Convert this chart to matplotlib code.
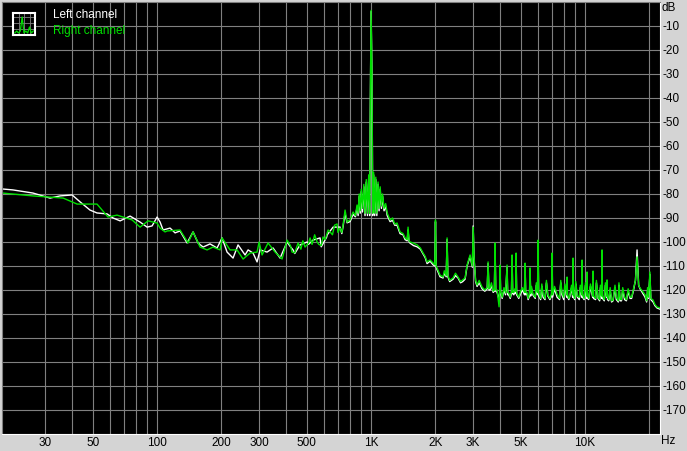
import numpy as np
import matplotlib.pyplot as plt

# Right channel (green), low part: Hz / dB
right_low_hz = [18.9, 26.3, 36.4, 42.3, 52.4, 59.0, 65.0, 76.4, 83.3, 90.8,
                100, 103.3, 109, 111.4, 128, 139.6, 147.3, 158.8, 171.3, 182.6,
                197, 201.2, 219.3, 236.5, 252.3, 272.1, 293.3, 299.7, 309.5, 330.2,
                356, 383.8, 405.1, 427.4, 456, 470, 480, 491.6, 518.8, 530,
                545, 559.4, 570, 596.6, 610, 630, 643.3, 660, 675, 693.7,
                700, 716.5]
right_low_db = [-79.6, -80.8, -81.7, -84.2, -84.2, -89.6, -88.8, -90.8, -93.8, -91.2,
                -92.1, -94.2, -95.8, -95.4, -95.0, -100.4, -95.8, -102.1, -103.3, -102.1,
                -103.3, -98.3, -103.3, -103.3, -107.1, -104.6, -104.2, -100.0, -105.4, -100.4,
                -104.2, -107.1, -99.2, -104.2, -100.4, -103.0, -99.5, -102.1, -98.3, -101.0,
                -97.0, -100.0, -101.0, -97.9, -99.0, -95.0, -95.8, -97.0, -93.0, -92.5,
                -96.0, -94.2]

# Left channel (white), low part
left_low_hz = [18.9, 21.2, 26.3, 31.6, 35.2, 40.1, 43.7, 48.6, 52.4, 58.4,
               62.3, 67.2, 74.8, 83.3, 89.8, 94.8, 100, 103.3, 106.7, 115,
               121.4, 128, 138.1, 147.3, 155.4, 164.1, 176.8, 190.7, 201.2, 212.4,
               226.5, 239, 257.8, 266.3, 280.9, 293.3, 302.9, 326.6, 348.4, 375.7,
               405.1, 432, 465.9, 502.3, 535.8, 577.7, 622.9, 664.5, 716.5]
left_low_db = [-77.9, -78.3, -79.6, -81.7, -80.8, -80.4, -83.3, -86.7, -87.9, -88.3,
               -90.0, -91.2, -89.2, -91.7, -93.8, -93.3, -89.6, -91.7, -95.0, -94.2,
               -96.2, -95.4, -100.4, -95.8, -100.4, -102.1, -100.8, -102.5, -98.3, -104.2,
               -106.7, -101.2, -105.4, -103.3, -104.6, -108.3, -103.3, -104.2, -102.5, -106.7,
               -100.0, -103.3, -101.2, -100.0, -99.2, -98.3, -97.1, -93.8, -93.8]

# around the 1 kHz test tone
peak_hz = [740, 756, 772.6, 797.9, 824.1, 845, 860, 870, 880, 890,
           900, 912, 925, 937, 950, 962, 975, 985, 990, 1000,
           1010, 1018, 1028, 1040, 1052, 1064, 1078, 1090, 1103, 1118,
           1132, 1150, 1170, 1190, 1227, 1260, 1290, 1323, 1366]
right_peak_db = [-92.9, -86.7, -91.7, -90.8, -87.5, -89.0, -84.6, -88.0, -80.0, -87.0,
                 -78.0, -86.0, -76.0, -88.0, -74.0, -88.0, -72.0, -88.0, -54.0, -3.5,
                 -29.0, -88.0, -71.0, -88.0, -73.0, -88.0, -75.0, -86.0, -77.0, -85.0,
                 -80.0, -86.0, -84.0, -88.0, -90.8, -90.0, -92.5, -92.1, -95.8]
left_peak_db = [-93.5, -88.0, -92.0, -91.5, -88.5, -89.5, -85.5, -89.0, -81.0, -88.0,
                -79.0, -87.5, -77.0, -89.0, -75.0, -89.0, -73.0, -89.0, -55.0, -4.0,
                -30.0, -89.0, -72.0, -89.0, -74.0, -89.0, -76.0, -87.0, -78.0, -86.0,
                -81.0, -87.0, -85.0, -89.0, -91.5, -91.0, -93.0, -93.0, -96.5]

# high part with harmonics / spurs
high_hz = [1411, 1442, 1475, 1489, 1505, 1522, 1580, 1641, 1700, 1750,
           1790, 1827, 1887, 1949, 1985, 2000, 2015, 2034, 2101, 2170,
           2245, 2266, 2285, 2417, 2550, 2680, 2750, 2810, 2902, 2975,
           3000, 3029, 3080, 3129, 3302, 3490, 3522, 3555, 3598, 3770,
           3797, 3825, 3880, 3965, 3990, 4008, 4030, 4250, 4321, 4350,
           4400, 4530, 4560, 4590, 4650, 4740, 4761, 4790, 5000, 5210,
           5244, 5280, 5350, 5500, 5534, 5570, 5700, 5995, 6031, 6070,
           6364, 6700, 6975, 7013, 7050, 7398, 7800, 8200, 8240, 8280,
           8500, 8750, 8789, 8830, 9200, 9640, 9683, 9730, 10170, 10216,
           10260, 10850, 10899, 10950, 11500, 11950, 12005, 12060, 12610, 12668,
           12730, 13513, 14000, 14576, 15300, 16234, 16800, 17200, 17500, 17800,
           18072, 19074, 19800, 20100, 20300, 20793, 21200, 21700, 22415]
right_high_db = [-96.5, -98.3, -99.0, -93.8, -99.5, -100.0, -100.5, -101.2, -102.5, -104.6,
                 -106.0, -108.3, -107.5, -108.8, -109.5, -90.8, -110.0, -110.8, -113.8, -114.6,
                 -114.0, -98.3, -113.8, -115.0, -114.6, -115.8, -115.0, -109.6, -105.4, -110.0,
                 -93.8, -106.2, -116.0, -117.9, -118.8, -119.0, -108.3, -119.5, -119.2, -120.0,
                 -100.4, -120.0, -120.0, -127.0, -120.0, -109.6, -120.5, -121.2, -109.6, -121.0,
                 -121.2, -120.8, -105.4, -121.0, -121.0, -120.5, -104.6, -121.2, -120.5, -121.0,
                 -108.8, -121.0, -121.0, -121.5, -110.8, -121.5, -121.5, -121.0, -99.2, -121.5,
                 -121.7, -122.0, -121.5, -104.6, -122.0, -121.7, -121.0, -122.0, -114.6, -122.0,
                 -122.0, -122.0, -106.7, -122.0, -122.5, -122.0, -107.5, -122.0, -122.5, -112.5,
                 -122.5, -122.5, -112.1, -122.5, -123.0, -122.5, -103.3, -122.5, -122.5, -115.8,
                 -123.0, -124.2, -123.0, -123.8, -123.0, -122.9, -120.0, -116.0, -106.2, -118.0,
                 -119.2, -122.0, -123.0, -112.5, -123.5, -124.2, -126.0, -127.1, -127.5]
left_high_db = [-97.0, -99.0, -99.5, -95.0, -100.0, -100.5, -101.5, -102.0, -103.0, -105.0,
                -106.5, -109.0, -108.0, -109.5, -110.0, -91.5, -110.5, -111.5, -114.5, -115.0,
                -114.5, -99.0, -114.5, -115.5, -115.0, -116.5, -115.5, -110.0, -106.0, -110.5,
                -93.3, -107.0, -116.5, -118.5, -119.5, -119.5, -109.0, -120.0, -120.0, -120.5,
                -101.0, -120.5, -121.0, -124.0, -121.0, -110.5, -121.0, -122.0, -110.5, -122.0,
                -122.0, -121.5, -106.5, -121.5, -122.0, -121.5, -105.5, -122.0, -121.5, -122.0,
                -109.5, -122.0, -121.5, -122.5, -111.5, -122.5, -122.0, -122.0, -100.5, -122.5,
                -123.0, -122.5, -122.5, -106.0, -123.0, -123.0, -122.0, -123.0, -115.5, -123.0,
                -122.5, -123.0, -108.0, -123.0, -123.0, -123.0, -108.5, -123.0, -123.5, -113.5,
                -123.5, -123.0, -113.0, -123.5, -123.5, -123.5, -104.5, -123.5, -123.0, -117.0,
                -124.0, -124.5, -124.0, -124.5, -124.0, -123.5, -120.5, -116.0, -103.3, -118.0,
                -119.5, -123.0, -123.5, -113.5, -124.0, -125.0, -126.5, -127.5, -128.0]

# extra noise-floor wiggles (both channels)
extra_hz = [420, 440, 510, 585, 620, 730,
            2200, 2330, 2480, 2620, 3200, 3400, 3650, 3720, 4100, 4180,
            4470, 4700, 4900, 5100, 5420, 5620, 5850, 5920, 6200, 6280,
            6500, 6600, 6850, 7200, 7600, 7700, 7950, 8050, 8400, 8650,
            8950, 9050, 9400, 9500, 9900, 10050, 10400, 10600, 11200, 11300,
            11700, 11800, 12300, 12450, 12900, 13100, 13300, 13800, 14300, 14400,
            14800, 15000, 15600, 15900, 16500, 19400, 19600]
extra_right_db = [-101.5, -104.5, -100.5, -101.5, -97.0, -96.0,
                  -112.0, -116.0, -113.0, -116.5, -116.0, -120.0, -117.0, -120.5, -123.0, -119.0,
                  -123.0, -119.5, -123.0, -119.0, -123.5, -118.5, -123.0, -117.0, -123.5, -117.5,
                  -123.5, -116.0, -123.5, -118.5, -123.5, -116.0, -123.0, -117.5, -123.5, -118.0,
                  -123.5, -116.5, -123.0, -118.0, -123.5, -117.0, -123.5, -117.5, -123.5, -116.0,
                  -124.0, -118.0, -124.0, -117.0, -124.0, -119.0, -124.5, -118.0, -124.5, -117.0,
                  -124.0, -119.0, -124.0, -119.5, -123.0, -124.5, -119.0]
extra_left_db = [-102.0, -104.8, -101.0, -102.0, -98.0, -96.5,
                 -113.0, -116.5, -114.0, -117.0, -117.0, -120.5, -118.0, -121.0, -123.5, -120.0,
                 -123.5, -120.5, -123.5, -120.0, -124.0, -119.5, -123.5, -118.0, -124.0, -118.5,
                 -124.0, -117.0, -124.0, -119.5, -124.0, -117.0, -124.0, -118.5, -124.0, -119.0,
                 -124.0, -117.5, -124.0, -119.0, -124.0, -118.0, -124.0, -118.5, -124.0, -117.0,
                 -124.5, -119.0, -124.5, -118.0, -124.5, -120.0, -125.0, -119.0, -125.0, -118.0,
                 -124.5, -120.0, -124.5, -120.5, -123.5, -125.0, -120.0]

grid_hz = [30, 40, 50, 60, 70, 80, 90, 100, 200, 300, 400, 500, 600, 700, 800, 900,
           1000, 2000, 3000, 4000, 5000, 6000, 7000, 8000, 9000, 10000, 20000]
hz_labels = {30: "30", 50: "50", 100: "100", 200: "200", 300: "300", 500: "500",
             1000: "1K", 2000: "2K", 3000: "3K", 5000: "5K", 10000: "10K"}
db_ticks = list(range(-170, 0, 10))

left_hz = np.concatenate([left_low_hz, peak_hz, high_hz, extra_hz])
left_db = np.concatenate([left_low_db, left_peak_db, left_high_db, extra_left_db])
order = np.argsort(left_hz)
left_hz, left_db = left_hz[order], left_db[order]

right_hz = np.concatenate([right_low_hz, peak_hz, high_hz, extra_hz])
right_db = np.concatenate([right_low_db, right_peak_db, right_high_db, extra_right_db])
order = np.argsort(right_hz)
right_hz, right_db = right_hz[order], right_db[order]

W, H = 687, 451
bg = "#d4d4d4"
green = "#00e000"
plt.rcParams["font.family"] = ["Liberation Sans", "DejaVu Sans"]

fig = plt.figure(figsize=(W / 100, H / 100), dpi=100, facecolor=bg)
ax = fig.add_axes([2 / W, 1 - 434 / H, 658 / W, 432 / H])
ax.set_facecolor("black")
ax.set_xscale("log")
ax.set_xlim(18.85, 22400)
ax.set_ylim(-180, 0)

ax.set_xticks(grid_hz)
ax.set_xticklabels([hz_labels.get(f, "") for f in grid_hz])
ax.xaxis.set_minor_locator(plt.NullLocator())
ax.set_yticks(db_ticks)
ax.set_yticklabels([str(v) for v in db_ticks])
ax.yaxis.tick_right()
ax.tick_params(axis="both", length=0, labelsize=8.5, colors="black")
ax.tick_params(axis="x", pad=2)
ax.tick_params(axis="y", pad=1.5)
ax.grid(True, color="#808080", linewidth=0.8)
ax.set_axisbelow(True)
for s in ["top", "left"]:
    ax.spines[s].set_color("#808080")
for s in ["bottom", "right"]:
    ax.spines[s].set_color("white")

ax.plot(left_hz, left_db, color="white", linewidth=1.0)
ax.plot(right_hz, right_db, color=green, linewidth=1.0)

fig.text(662 / W, 1 - 8 / H, "dB", fontsize=8.5, va="center", ha="left")
fig.text(661 / W, 1 - 441 / H, "Hz", fontsize=8.5, va="center", ha="left")

# legend
fig.text(53 / W, 1 - 15 / H, "Left channel", fontsize=8.5, color="white", va="center")
fig.text(53 / W, 1 - 31 / H, "Right channel", fontsize=8.5, color=green, va="center")

icon_x = [0, 1, 2, 3, 4, 5, 6, 7, 8, 9, 10]
icon_y = [1, 2, 1, 2, 9, 1, 2, 1, 4, 1, 2]
ic = fig.add_axes([13 / W, 1 - 35 / H, 22 / W, 22 / H])
ic.set_facecolor("black")
ic.set_xlim(-1, 11)
ic.set_ylim(0, 11)
ic.set_xticks([2, 5, 8])
ic.set_yticks([3, 6, 9])
ic.tick_params(length=0, labelbottom=False, labelleft=False)
ic.grid(True, color="#808080", linewidth=0.6)
ic.plot(icon_x, icon_y, color=green, linewidth=0.9)
for s in ic.spines.values():
    s.set_color("white")
    s.set_linewidth(1.5)

fig.savefig("out.png", dpi=100, facecolor=bg)
